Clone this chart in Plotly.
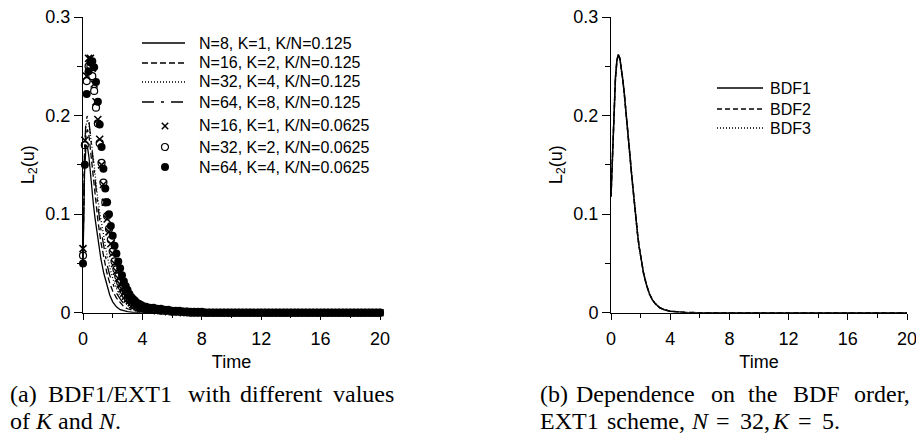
import plotly.graph_objects as go

W, H = 916, 436
SANS = "Liberation Sans, Arial, sans-serif"
SERIF = "Liberation Serif, Times New Roman, serif"

# ---------------- panel (a): lines ----------------
T_LINE = [0, 0.1, 0.2, 0.3, 0.4, 0.5, 0.6, 0.7, 0.8, 0.9, 1.0, 1.2, 1.4, 1.6, 1.8, 2.0,
          2.25, 2.5, 2.75, 3.0, 3.5, 4.0, 5.0, 6.0, 8.0, 10.0, 12.0, 14.0, 16.0, 18.0, 20.0]
N8_K1 = [0.050, 0.140, 0.170, 0.168, 0.158, 0.140, 0.125, 0.110, 0.097, 0.085, 0.074,
         0.055, 0.040, 0.028, 0.018, 0.011, 0.006, 0.003, 0.002, 0.001, 0.0, 0.0,
         0, 0, 0, 0, 0, 0, 0, 0, 0]
N16_K2 = [0.055, 0.150, 0.180, 0.186, 0.180, 0.165, 0.150, 0.135, 0.120, 0.106, 0.094,
          0.072, 0.055, 0.041, 0.030, 0.022, 0.015, 0.010, 0.006, 0.004, 0.002, 0.001,
          0, 0, 0, 0, 0, 0, 0, 0, 0]
N32_K4 = [0.060, 0.160, 0.190, 0.196, 0.192, 0.182, 0.170, 0.157, 0.143, 0.129, 0.115,
          0.095, 0.077, 0.060, 0.046, 0.035, 0.025, 0.017, 0.012, 0.008, 0.004, 0.002,
          0, 0, 0, 0, 0, 0, 0, 0, 0]
N64_K8 = [0.060, 0.165, 0.195, 0.200, 0.194, 0.182, 0.167, 0.152, 0.137, 0.122, 0.109,
          0.085, 0.066, 0.050, 0.038, 0.029, 0.020, 0.014, 0.009, 0.006, 0.003, 0.001,
          0, 0, 0, 0, 0, 0, 0, 0, 0]

# ---------------- panel (a): markers ----------------
T_MARK = [0, 0.125, 0.25, 0.375, 0.5, 0.625, 0.75, 0.875, 1, 1.125, 1.25, 1.375, 1.5,
          1.625, 1.75, 1.875, 2, 2.125, 2.25, 2.375, 2.5, 2.625, 2.75, 2.875, 3, 3.125,
          3.25, 3.375, 3.5, 3.625, 3.75, 3.875, 4,
          4.25, 4.5, 4.75, 5, 5.25, 5.5, 5.75, 6, 6.25, 6.5, 6.75, 7, 7.25, 7.5, 7.75, 8,
          8.25, 8.5, 8.75, 9, 9.25, 9.5, 9.75, 10, 10.25, 10.5, 10.75, 11, 11.25, 11.5, 11.75, 12,
          12.25, 12.5, 12.75, 13, 13.25, 13.5, 13.75, 14, 14.25, 14.5, 14.75, 15, 15.25, 15.5, 15.75, 16,
          16.25, 16.5, 16.75, 17, 17.25, 17.5, 17.75, 18, 18.25, 18.5, 18.75, 19, 19.25, 19.5, 19.75, 20]
N16_K1 = [0.065, 0.175, 0.240, 0.258, 0.258, 0.248, 0.232, 0.214, 0.196, 0.176,
          0.150, 0.130, 0.112, 0.095, 0.082, 0.070, 0.060, 0.050, 0.042, 0.035,
          0.029, 0.024, 0.020, 0.017, 0.014, 0.012, 0.010, 0.008, 0.007, 0.006,
          0.005, 0.004, 0.004,
          0.004, 0.003, 0.003, 0.002, 0.002, 0.002, 0.001, 0.001, 0.001, 0.001, 0, 0, 0, 0, 0, 0,
          0, 0, 0, 0, 0, 0, 0, 0, 0, 0, 0, 0, 0, 0, 0, 0,
          0, 0, 0, 0, 0, 0, 0, 0, 0, 0, 0, 0, 0, 0, 0, 0,
          0, 0, 0, 0, 0, 0, 0, 0, 0, 0, 0, 0, 0, 0, 0, 0]
N32_K2 = [0.058, 0.170, 0.235, 0.250, 0.250, 0.240, 0.225, 0.208, 0.192, 0.172,
          0.152, 0.132, 0.112, 0.098, 0.085, 0.074, 0.062, 0.052, 0.044, 0.037,
          0.031, 0.026, 0.022, 0.018, 0.015, 0.013, 0.011, 0.009, 0.008, 0.007,
          0.006, 0.005, 0.005,
          0.004, 0.004, 0.003, 0.003, 0.002, 0.002, 0.002, 0.001, 0.001, 0.001, 0.001, 0.001, 0, 0, 0, 0,
          0, 0, 0, 0, 0, 0, 0, 0, 0, 0, 0, 0, 0, 0, 0, 0,
          0, 0, 0, 0, 0, 0, 0, 0, 0, 0, 0, 0, 0, 0, 0, 0,
          0, 0, 0, 0, 0, 0, 0, 0, 0, 0, 0, 0, 0, 0, 0, 0]
N64_K4 = [0.050, 0.150, 0.222, 0.245, 0.254, 0.255, 0.249, 0.234, 0.214, 0.191,
          0.168, 0.146, 0.126, 0.112, 0.100, 0.088, 0.078, 0.068, 0.060, 0.052,
          0.045, 0.038, 0.032, 0.027, 0.023, 0.019, 0.016, 0.014, 0.012, 0.010,
          0.009, 0.008, 0.007,
          0.006, 0.005, 0.005, 0.004, 0.004, 0.003, 0.003, 0.002, 0.002, 0.002, 0.001, 0.001, 0.001, 0.001, 0.001, 0.001,
          0, 0, 0, 0, 0, 0, 0, 0, 0, 0, 0, 0, 0, 0, 0, 0,
          0, 0, 0, 0, 0, 0, 0, 0, 0, 0, 0, 0, 0, 0, 0, 0,
          0, 0, 0, 0, 0, 0, 0, 0, 0, 0, 0, 0, 0, 0, 0, 0]

# ---------------- panel (b) ----------------
T_B = [0, 0.1, 0.2, 0.3, 0.4, 0.5, 0.6, 0.7, 0.8, 0.9, 1.0, 1.1, 1.2, 1.3, 1.4, 1.5, 1.6,
       1.7, 1.8, 1.9, 2.0, 2.2, 2.4, 2.6, 2.8, 3.0, 3.3, 3.6, 4.0, 4.5, 5.0, 6.0,
       8.0, 10.0, 12.0, 14.0, 16.0, 18.0, 20.0]
BDF1 = [0.118, 0.158, 0.203, 0.238, 0.256, 0.262, 0.258, 0.248, 0.236, 0.222, 0.207,
        0.190, 0.173, 0.156, 0.139, 0.122, 0.106, 0.092, 0.079, 0.067, 0.057,
        0.040, 0.028, 0.019, 0.013, 0.009, 0.005, 0.003, 0.0015, 0.0007, 0.0003, 0.0,
        0, 0, 0, 0, 0, 0, 0]
BDF2 = [0.118, 0.158, 0.203, 0.238, 0.256, 0.262, 0.258, 0.248, 0.236, 0.222, 0.207,
        0.190, 0.173, 0.156, 0.139, 0.122, 0.106, 0.092, 0.079, 0.067, 0.057,
        0.040, 0.028, 0.019, 0.013, 0.009, 0.005, 0.003, 0.0015, 0.0007, 0.0003, 0.0,
        0, 0, 0, 0, 0, 0, 0]
BDF3 = [0.118, 0.158, 0.203, 0.238, 0.256, 0.262, 0.258, 0.248, 0.236, 0.222, 0.207,
        0.190, 0.173, 0.156, 0.139, 0.122, 0.106, 0.092, 0.079, 0.067, 0.057,
        0.040, 0.028, 0.019, 0.013, 0.009, 0.005, 0.003, 0.0015, 0.0007, 0.0003, 0.0,
        0, 0, 0, 0, 0, 0, 0]

X_TICKS = [0, 4, 8, 12, 16, 20]
X_MINOR = [2, 6, 10, 14, 18]
Y_TICKS = [0, 0.1, 0.2, 0.3]
Y_LABELS = ["0", "0.1", "0.2", "0.3"]
Y_MINOR = [0.05, 0.15, 0.25]

DASH_SOLID = "solid"
DASH_DASH = "6px,3px"
DASH_DOT = "1px,2px"
DASH_DASHDOT = "12px,7px,3px,7px"


def px_x(p):
    return p / W


def px_y(p):
    return 1 - p / H


fig = go.Figure()

line_series = [
    ("N=8, K=1, K/N=0.125", N8_K1, DASH_SOLID),
    ("N=16, K=2, K/N=0.125", N16_K2, DASH_DASH),
    ("N=32, K=4, K/N=0.125", N32_K4, DASH_DOT),
    ("N=64, K=8, K/N=0.125", N64_K8, DASH_DASHDOT),
]
for name, ys, dash in line_series:
    fig.add_trace(go.Scatter(x=T_LINE, y=ys, mode="lines", name=name,
                             line=dict(color="black", width=1.3, dash=dash),
                             xaxis="x", yaxis="y", cliponaxis=False, showlegend=False))

marker_series = [
    ("N=16, K=1, K/N=0.0625", N16_K1, "cross"),
    ("N=32, K=2, K/N=0.0625", N32_K2, "open"),
    ("N=64, K=4, K/N=0.0625", N64_K4, "filled"),
]
MARKER_STYLE = {
    "cross": dict(symbol="x-thin", size=7, color="black", line=dict(color="black", width=1.5)),
    "open": dict(symbol="circle-open", size=7, color="black", line=dict(color="black", width=1.2)),
    "filled": dict(symbol="circle", size=8, color="black", line=dict(width=0)),
}
for name, ys, kind in marker_series:
    fig.add_trace(go.Scatter(x=T_MARK, y=ys, mode="markers", name=name, marker=MARKER_STYLE[kind],
                             xaxis="x", yaxis="y", cliponaxis=False, showlegend=False))

bdf_series = [("BDF1", BDF1, DASH_SOLID), ("BDF2", BDF2, "5px,3px"), ("BDF3", BDF3, DASH_DOT)]
for name, ys, dash in bdf_series:
    fig.add_trace(go.Scatter(x=T_B, y=ys, mode="lines", name=name,
                             line=dict(color="black", width=1.5, dash=dash),
                             xaxis="x2", yaxis="y2", cliponaxis=False, showlegend=False))

tick_font = dict(family=SANS, size=18, color="black")


def xaxis(domain, anchor):
    return dict(domain=domain, anchor=anchor, range=[0, 20], showline=True, linecolor="black",
                linewidth=1, ticks="outside", ticklen=6, tickwidth=1, tickcolor="black",
                tickvals=X_TICKS, minor=dict(tickvals=X_MINOR, ticks="outside", ticklen=4,
                                              tickwidth=1, tickcolor="black", showgrid=False),
                showgrid=False, zeroline=False, tickfont=tick_font, ticklabelstandoff=4,
                ticklabeloverflow="allow",
                title=dict(text="Time", font=tick_font, standoff=7), automargin=False,
                fixedrange=True)


def yaxis(domain, anchor):
    return dict(domain=domain, anchor=anchor, range=[0, 0.3], showline=True, linecolor="black",
                linewidth=1, ticks="outside", ticklen=8, tickwidth=1, tickcolor="black",
                tickvals=Y_TICKS, ticktext=Y_LABELS,
                minor=dict(tickvals=Y_MINOR, ticks="outside", ticklen=5, tickwidth=1,
                           tickcolor="black", showgrid=False),
                showgrid=False, zeroline=False, tickfont=tick_font, ticklabeloverflow="allow",
                title=dict(text="L<sub>2</sub>(u)", font=tick_font, standoff=6), automargin=False,
                fixedrange=True)


ydom = [px_y(312.7), px_y(17)]
leg_font = dict(family=SANS, size=16, color="black")

shapes = []
annotations = []


def legend_text(txt, x, y):
    annotations.append(dict(text=txt, x=px_x(x), y=px_y(y), xref="paper", yref="paper",
                            xanchor="left", yanchor="middle", showarrow=False, font=leg_font))


def legend_line(x0, x1, y, dash, width):
    shapes.append(dict(type="line", xref="paper", yref="paper", x0=px_x(x0), x1=px_x(x1),
                       y0=px_y(y), y1=px_y(y), line=dict(color="black", width=width, dash=dash)))


def legend_marker(kind, cx, cy):
    if kind == "cross":
        r = 3.2
        for a, b in [(-r, -r), (-r, r)]:
            shapes.append(dict(type="line", xref="paper", yref="paper",
                               x0=px_x(cx + a), x1=px_x(cx - a), y0=px_y(cy + b), y1=px_y(cy - b),
                               line=dict(color="black", width=1.5)))
    else:
        r = 3.5 if kind == "open" else 4
        shapes.append(dict(type="circle", xref="paper", yref="paper",
                           x0=px_x(cx - r), x1=px_x(cx + r), y0=px_y(cy + r), y1=px_y(cy - r),
                           fillcolor="black" if kind == "filled" else "rgba(0,0,0,0)",
                           line=dict(color="black", width=1.2 if kind == "open" else 0)))


# legend of panel (a)
LEG_A_ROWS = [43, 63, 82, 102, 126, 147, 167]
for (name, _, dash), yrow in zip(line_series, LEG_A_ROWS[:4]):
    legend_line(142, 185, yrow, dash, 1.3)
    legend_text(name, 197, yrow)
for (name, _, kind), yrow in zip(marker_series, LEG_A_ROWS[4:]):
    legend_marker(kind, 165, yrow)
    legend_text(name, 197, yrow)

# legend of panel (b)
LEG_B_ROWS = [88, 109, 128]
for (name, _, dash), yrow in zip(bdf_series, LEG_B_ROWS):
    legend_line(717, 763, yrow, dash, 1.5)
    legend_text(name, 768, yrow)

# captions (justified, word by word)
caption_words = [
    ("(a)", 8, 394), ("BDF1/EXT1", 46, 394), ("with", 186, 394), ("different", 238, 394),
    ("values", 331, 394),
    ("of", 8, 421), ("<i>K</i>", 33, 421), ("and", 56, 421), ("<i>N</i>.", 96, 421),
    ("(b)", 538, 394), ("Dependence", 574, 394), ("on", 709, 394), ("the", 746, 394),
    ("BDF", 791, 394), ("order,", 852, 394),
    ("EXT1", 538, 421), ("scheme,", 605, 421), ("<i>N</i>", 689, 421), ("=", 714, 421),
    ("32,", 738, 421), ("<i>K</i>", 770, 421), ("=", 796, 421), ("5.", 820, 421),
]
for txt, x0, yc in caption_words:
    annotations.append(dict(text=txt, x=px_x(x0), y=px_y(yc), xref="paper", yref="paper",
                            xanchor="left", yanchor="middle", showarrow=False,
                            font=dict(family=SERIF, size=24, color="black")))

fig.update_layout(
    width=W, height=H,
    margin=dict(l=0, r=0, t=0, b=0),
    paper_bgcolor="white", plot_bgcolor="white",
    font=dict(family=SANS, color="black"),
    xaxis=xaxis([px_x(83), px_x(380)], "y"),
    yaxis=yaxis(ydom, "x"),
    xaxis2=xaxis([px_x(611), px_x(907)], "y2"),
    yaxis2=yaxis(ydom, "x2"),
    showlegend=False,
    shapes=shapes,
    annotations=annotations,
)

fig.write_html("out.html", include_plotlyjs=True, config=dict(displayModeBar=False))
